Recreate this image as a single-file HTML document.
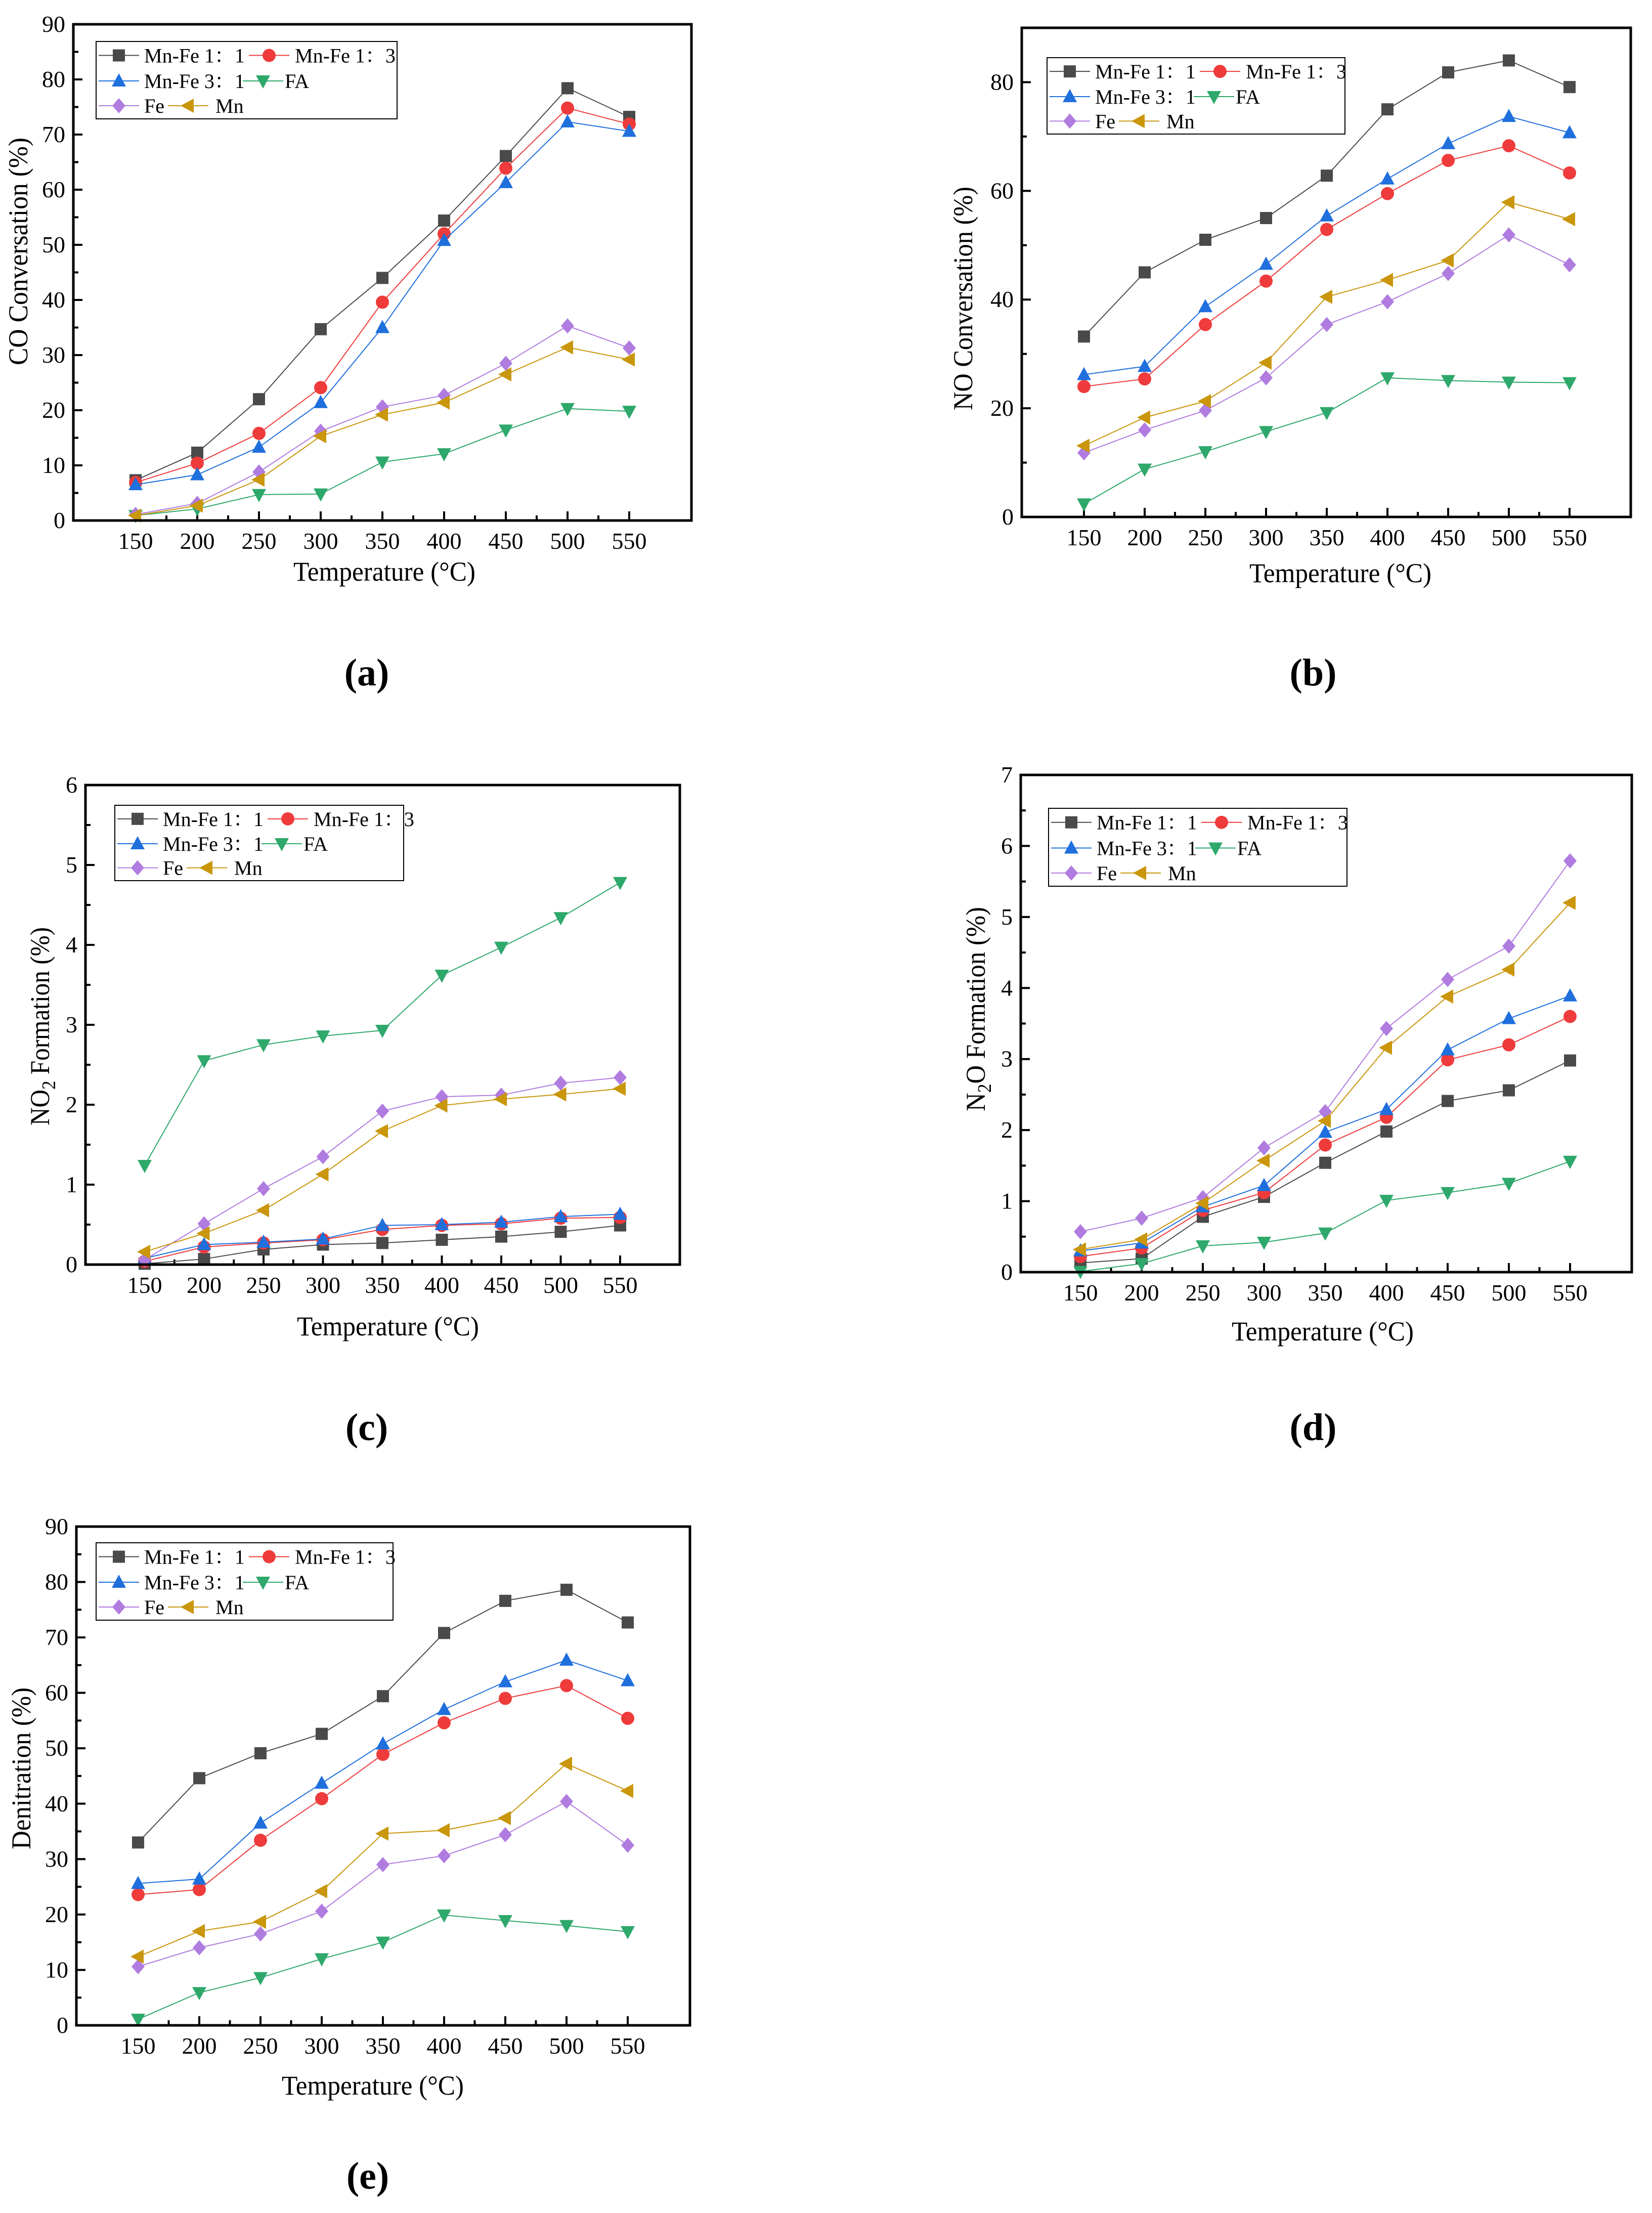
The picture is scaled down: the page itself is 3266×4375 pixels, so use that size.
<!DOCTYPE html>
<html><head><meta charset="utf-8"><style>
html,body{margin:0;padding:0;background:#fff}
svg{display:block}
text{font-family:"Liberation Serif","Noto Serif CJK SC",serif;fill:#000}
</style></head><body>
<svg id="fig" xmlns="http://www.w3.org/2000/svg" width="3266" height="4375" viewBox="0 0 3266 4375"></svg>
<script>
const temperatures=[150,200,250,300,350,400,450,500,550];
const seriesNames=["Mn-Fe 1：1","Mn-Fe 1：3","Mn-Fe 3：1","FA","Fe","Mn"];
// panel a: CO conversion
const coMnFe11=[7.3,12.3,22,34.7,44,54.4,66.1,78.4,73.2];
const coMnFe13=[6.9,10.4,15.8,24.1,39.6,52,63.9,74.8,71.9];
const coMnFe31=[6.5,8.3,13.3,21.4,35,50.8,61.3,72.3,70.6];
const coFA=[0.9,2.1,4.7,4.8,10.6,12.1,16.4,20.3,19.8];
const coFe=[1.1,3.1,8.8,16.2,20.6,22.7,28.5,35.3,31.3];
const coMn=[0.9,2.7,7.4,15.3,19.2,21.4,26.5,31.4,29.2];
// panel b: NO conversion
const noMnFe11=[33.2,45,51,55,62.8,75,81.8,84,79.1];
const noMnFe13=[24,25.4,35.4,43.4,52.9,59.5,65.6,68.3,63.3];
const noMnFe31=[26.2,27.7,38.7,46.5,55.4,62.2,68.7,73.7,70.7];
const noFA=[2.4,8.8,12,15.7,19.2,25.6,25.1,24.8,24.7];
const noFe=[11.8,16,19.6,25.6,35.4,39.6,44.8,51.9,46.4];
const noMn=[13.1,18.3,21.3,28.4,40.5,43.6,47.2,57.9,54.8];
// panel c: NO2 formation
const no2MnFe11=[0.01,0.07,0.19,0.25,0.27,0.31,0.35,0.41,0.49];
const no2MnFe13=[0.04,0.22,0.27,0.31,0.44,0.49,0.51,0.58,0.59];
const no2MnFe31=[0.08,0.25,0.28,0.32,0.49,0.5,0.53,0.6,0.63];
const no2FA=[1.24,2.55,2.75,2.86,2.93,3.62,3.97,4.34,4.78];
const no2Fe=[0.06,0.51,0.95,1.35,1.92,2.1,2.12,2.27,2.34];
const no2Mn=[0.16,0.39,0.68,1.13,1.67,1.99,2.07,2.13,2.2];
// panel d: N2O formation
const n2oMnFe11=[0.13,0.19,0.78,1.06,1.54,1.98,2.41,2.56,2.98];
const n2oMnFe13=[0.22,0.34,0.87,1.12,1.79,2.18,2.99,3.2,3.6];
const n2oMnFe31=[0.3,0.41,0.92,1.22,1.97,2.29,3.13,3.57,3.89];
const n2oFA=[0.01,0.12,0.37,0.42,0.55,1.01,1.12,1.25,1.56];
const n2oFe=[0.57,0.76,1.05,1.75,2.26,3.43,4.12,4.59,5.79];
const n2oMn=[0.32,0.46,0.97,1.57,2.13,3.16,3.88,4.26,5.2];
// panel e: denitration
const deMnFe11=[33,44.6,49.1,52.6,59.4,70.8,76.6,78.6,72.7];
const deMnFe13=[23.6,24.5,33.4,40.9,48.9,54.6,59,61.3,55.4];
const deMnFe31=[25.6,26.4,36.5,43.7,50.8,57,62,65.9,62.2];
const deFA=[1.1,5.9,8.6,12,15,19.9,18.9,18,16.9];
const deFe=[10.6,14,16.5,20.6,29,30.6,34.4,40.4,32.5];
const deMn=[12.4,17,18.7,24.2,34.6,35.2,37.4,47.2,42.3];
// tick labels
const yTicksA=[0,10,20,30,40,50,60,70,80,90];
const yTicksB=[0,20,40,60,80];
const yTicksC=[0,1,2,3,4,5,6];
const yTicksD=[0,1,2,3,4,5,6,7];
const yTicksE=[0,10,20,30,40,50,60,70,80,90];

const NS="http://www.w3.org/2000/svg";
const svg=document.getElementById('fig');
const colors=["#4a4a4a","#ef3b3b","#1f6fdd","#2ea86b","#b07ce0","#c9960c"];
const shapes=["square","circle","up","down","diamond","left"];
const keys=["mnfe11","mnfe13","mnfe31","fa","fe","mn"];
function el(tag,attrs,parent){const e=document.createElementNS(NS,tag);for(const k in attrs)e.setAttribute(k,attrs[k]);(parent||svg).appendChild(e);return e;}
function marker(g,shape,x,y,c){
  const s=12;let e;
  if(shape==="square")e=el('rect',{x:x-s,y:y-s,width:2*s,height:2*s,fill:c},g);
  else if(shape==="circle")e=el('circle',{cx:x,cy:y,r:s+1,fill:c},g);
  else{let p;
    if(shape==="up")p=[[x,y-15],[x+14,y+11],[x-14,y+11]];
    else if(shape==="down")p=[[x,y+15],[x+14,y-11],[x-14,y-11]];
    else if(shape==="diamond")p=[[x,y-15],[x+13,y],[x,y+15],[x-13,y]];
    else p=[[x-15,y],[x+11,y-14],[x+11,y+14]];
    e=el('polygon',{points:p.map(q=>q.join(',')).join(' '),fill:c},g);}
  return e;
}
function panel(cfg){
  const g=el('g',{});
  
  
  const X=t=>cfg.x150+(t-150)*(cfg.x550-cfg.x150)/400;
  const Y=v=>cfg.B-v*(cfg.B-cfg.T)/cfg.ymax;
  for(let t=150;t<=550;t+=25){const maj=(t%50===0);
    const tk=el('line',{x1:X(t),x2:X(t),y1:cfg.B,y2:cfg.B-(maj?18:10),stroke:'#000','stroke-width':4},g);
    
    if(maj){const lb=el('text',{x:X(t),y:cfg.B+56,'font-size':46,'text-anchor':'middle'},g);lb.textContent=t;
      }}
  for(let v=0;v<=cfg.ymax+1e-9;v+=cfg.minor){const maj=cfg.yt.some(q=>Math.abs(q-v)<1e-9);
    const tk=el('line',{x1:cfg.L,x2:cfg.L+(maj?18:10),y1:Y(v),y2:Y(v),stroke:'#000','stroke-width':4},g);
    }
  cfg.yt.forEach(v=>{const lb=el('text',{x:cfg.L-16,y:Y(v)+15,'font-size':46,'text-anchor':'end'},g);lb.textContent=v;
    });
  cfg.data.forEach((arr,i)=>{
    const sg=el('g',{},g);
    
    
    const pl=el('polyline',{points:arr.map((v,j)=>X(temperatures[j])+','+Y(v)).join(' '),fill:'none',stroke:colors[i],'stroke-width':2},sg);
    
    arr.forEach((v,j)=>{const m=marker(sg,shapes[i],X(temperatures[j]),Y(v),colors[i]);
      });
  });
  const fr=el('rect',{x:cfg.L,y:cfg.T,width:cfg.R-cfg.L,height:cfg.B-cfg.T,fill:'none',stroke:'#000','stroke-width':5},g);
  
  const lg=el('g',{},g);
  
  const lx=cfg.leg[0],ly=cfg.leg[1],lw=cfg.leg[2],lh=cfg.leg[3];
  el('rect',{x:lx,y:ly,width:lw,height:lh,fill:'#fff',stroke:'#000','stroke-width':2},lg);
  const rows=[ly+lh*0.18,ly+lh*0.51,ly+lh*0.83];
  const pos=[[45,95],[342,393],[45,95],[330,373],[45,95],[182,236]];
  seriesNames.forEach((nm,i)=>{const r=rows[Math.floor(i/2)];const m=lx+pos[i][0];
    const e=el('g',{},lg);
    
    el('line',{x1:m-40,x2:m+40,y1:r,y2:r,stroke:colors[i],'stroke-width':2},e);
    marker(e,shapes[i],m,r,colors[i]);
    const t=el('text',{x:lx+pos[i][1],y:r+14,'font-size':40},e);t.textContent=nm;});
  const xt=el('text',{x:cfg.xt[0],y:cfg.xt[1]+18,'font-size':54,'text-anchor':'middle',textLength:360,lengthAdjust:'spacingAndGlyphs'},g);
  xt.textContent='Temperature (°C)';
  
  const yt=el('text',{x:0,y:0,'font-size':54,'text-anchor':'middle',transform:`translate(${cfg.ytp[0]+18},${cfg.ytp[1]}) rotate(-90)`,textLength:cfg.ytl,lengthAdjust:'spacingAndGlyphs'},g);
  yt.innerHTML=cfg.ytitle;
  
  const pt=el('text',{x:cfg.pl[0],y:cfg.pl[1]+25,'font-size':76,'font-weight':'bold','text-anchor':'middle'},g);
  pt.textContent=cfg.label;
  
}
panel({name:'panel-a-co-conversion',L:145,R:1367,T:48,B:1029,x150:268,x550:1244,ymax:90,minor:5,yt:yTicksA,
  data:[coMnFe11,coMnFe13,coMnFe31,coFA,coFe,coMn],leg:[190,82,595,153],xt:[760,1130],ytp:[36,497],ytl:450,
  ytitle:'CO Conversation (%)',pl:[725,1330],label:'(a)'});
panel({name:'panel-b-no-conversion',L:2020,R:3224,T:55,B:1022,x150:2143,x550:3103,ymax:90,minor:10,yt:yTicksB,
  data:[noMnFe11,noMnFe13,noMnFe31,noFA,noFe,noMn],leg:[2070,114,589,151],xt:[2650,1133],ytp:[1904,590],ytl:442,
  ytitle:'NO Conversation (%)',pl:[2596,1330],label:'(b)'});
panel({name:'panel-c-no2-formation',L:169,R:1344,T:1552,B:2500,x150:286,x550:1226,ymax:6,minor:0.5,yt:yTicksC,
  data:[no2MnFe11,no2MnFe13,no2MnFe31,no2FA,no2Fe,no2Mn],leg:[227,1592,571,149],xt:[767,2622],ytp:[79,2029],ytl:392,
  ytitle:'NO<tspan font-size="38" dy="12">2</tspan><tspan dy="-12"> Formation (%)</tspan>',pl:[725,2822],label:'(c)'});
panel({name:'panel-d-n2o-formation',L:2018,R:3226,T:1532,B:2515,x150:2136,x550:3104,ymax:7,minor:0.5,yt:yTicksD,
  data:[n2oMnFe11,n2oMnFe13,n2oMnFe31,n2oFA,n2oFe,n2oMn],leg:[2073,1598,590,154],xt:[2615,2632],ytp:[1929,1995],ytl:404,
  ytitle:'N<tspan font-size="38" dy="12">2</tspan><tspan dy="-12">O Formation (%)</tspan>',pl:[2596,2822],label:'(d)'});
panel({name:'panel-e-denitration',L:151,R:1364,T:3018,B:4004,x150:273,x550:1241,ymax:90,minor:5,yt:yTicksE,
  data:[deMnFe11,deMnFe13,deMnFe31,deFA,deFe,deMn],leg:[190,3050,587,153],xt:[737,4123],ytp:[42,3496],ytl:320,
  ytitle:'Denitration (%)',pl:[727,4302],label:'(e)'});
</script>
</body></html>
